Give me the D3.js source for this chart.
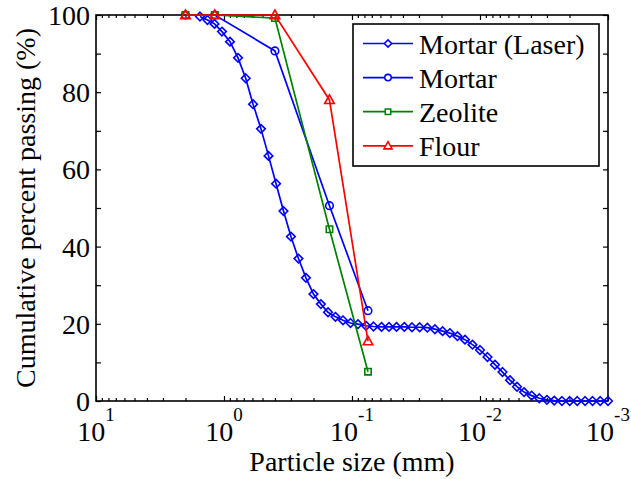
<!DOCTYPE html>
<html>
<head>
<meta charset="utf-8">
<script src="https://cdn.jsdelivr.net/npm/d3@7"></script>
<style>
  body { margin: 0; background: #fff; }
  svg { display: block; font-family: "Liberation Serif", "Times New Roman", serif; }
</style>
</head>
<body>
<div id="chart"></div>
<script>
// laser diffraction curve (mm, % passing)
var laserSize = [1.540, 1.346, 1.186, 1.037, 0.898, 0.777, 0.677, 0.593, 0.514, 0.449,
  0.392, 0.343, 0.300, 0.262, 0.229, 0.200, 0.175, 0.154, 0.1346, 0.1176,
  0.1027, 0.0898, 0.0777, 0.0679, 0.0588, 0.0514, 0.0449, 0.0390, 0.0340, 0.0296,
  0.0258, 0.0225, 0.0196, 0.0172, 0.0150, 0.0131, 0.01145, 0.0100, 0.00874, 0.00764,
  0.00667, 0.00583, 0.00514, 0.00453, 0.00395, 0.00344, 0.00300, 0.00263, 0.00229, 0.00199,
  0.00174, 0.00151, 0.00132, 0.00115, 0.00100]
var laserPass = [99.6, 98.7, 97.7, 95.7, 93.1, 88.9, 83.6, 76.9, 70.5, 63.5,
  56.3, 49.2, 42.6, 36.9, 31.9, 27.7, 25.1, 23.0, 21.8, 20.9,
  20.2, 19.9, 19.5, 19.3, 19.2, 19.2, 19.2, 19.2, 19.1, 19.1,
  19.0, 18.6, 18.1, 17.6, 16.8, 15.9, 14.6, 13.2, 11.4, 9.4,
  7.5, 5.4, 3.7, 2.3, 1.4, 0.7, 0.3, 0.1, 0, 0,
  0, 0, 0, 0, 0]

// sieve results
var sieveSize = [2, 1.18, 0.4, 0.15, 0.075]
var mortarPass = [100, 100, 90.7, 50.6, 23.4]
var zeolitePass = [100, 100, 99.2, 44.5, 7.6]
var flourPass = [100, 100, 100, 78.0, 15.5]

var seriesNames = ["Mortar (Laser)", "Mortar", "Zeolite", "Flour"]
var seriesColors = ["#0000ff", "#0000ff", "#008000", "#ff0000"]
var seriesMarkers = ["diamond", "circle", "square", "triangle"]

var xDecades = [10, 1, 0.1, 0.01, 0.001]
var xExponents = ["1", "0", "-1", "-2", "-3"]
var yLabelTicks = [0, 20, 40, 60, 80, 100]
var yAllTicks = [0, 10, 20, 30, 40, 50, 60, 70, 80, 90, 100]

var width = 631, height = 479
var margin = {top: 15, right: 23, bottom: 78, left: 96}

var svg = d3.select("#chart").append("svg")
  .attr("width", width)
  .attr("height", height)

var x = d3.scaleLog().domain([10, 0.001]).range([margin.left, width - margin.right])
var y = d3.scaleLinear().domain([0, 100]).range([height - margin.bottom, margin.top])

// minor ticks 2..9 per decade
var minor = []
xDecades.slice(1).forEach(function(d){
  for (var k = 2; k <= 9; k++) minor.push(d * k)
})

// ---------------------------//
//       AXES                 //
// ---------------------------//
var x0 = x.range()[0], x1 = x.range()[1]
var y0 = y.range()[0], y1 = y.range()[1]

var ax = svg.append("g").attr("class", "axes")

ax.append("g").attr("transform", "translate(0," + y0 + ")")
  .call(d3.axisBottom(x).tickValues(xDecades).tickSize(-5).tickSizeOuter(0).tickFormat(""))
ax.append("g").attr("transform", "translate(0," + y0 + ")")
  .call(d3.axisBottom(x).tickValues(minor).tickSize(-3).tickSizeOuter(0).tickFormat(""))
ax.append("g").attr("transform", "translate(0," + y1 + ")")
  .call(d3.axisTop(x).tickValues(xDecades).tickSize(-5).tickSizeOuter(0).tickFormat(""))
ax.append("g").attr("transform", "translate(0," + y1 + ")")
  .call(d3.axisTop(x).tickValues(minor).tickSize(-3).tickSizeOuter(0).tickFormat(""))
ax.append("g").attr("transform", "translate(" + x0 + ",0)")
  .call(d3.axisLeft(y).tickValues(yAllTicks).tickSize(-5).tickSizeOuter(0).tickFormat(""))
ax.append("g").attr("transform", "translate(" + x1 + ",0)")
  .call(d3.axisRight(y).tickValues(yAllTicks).tickSize(-5).tickSizeOuter(0).tickFormat(""))

ax.selectAll(".domain").remove()
ax.selectAll("line").attr("stroke", "#000").attr("stroke-width", 1.2)

ax.append("rect")
  .attr("x", x0).attr("y", y1)
  .attr("width", x1 - x0).attr("height", y0 - y1)
  .attr("fill", "none").attr("stroke", "#000").attr("stroke-width", 1.6)

// tick labels
svg.append("g").selectAll("text")
  .data(yLabelTicks)
  .enter().append("text")
    .attr("x", x0 - 6)
    .attr("y", function(d){ return y(d) + 10 })
    .attr("text-anchor", "end")
    .attr("font-size", 28)
    .text(function(d){ return d })

var xl = svg.append("g").selectAll("text")
  .data(xDecades)
  .enter().append("text")
    .attr("x", function(d){ return x(d) })
    .attr("y", 441)
    .attr("text-anchor", "middle")
    .attr("font-size", 28)
xl.append("tspan").text("10")
xl.append("tspan")
  .attr("font-size", 19)
  .attr("dy", -20)
  .text(function(d, i){ return xExponents[i] })

// axis titles
svg.append("text")
  .attr("x", (x0 + x1) / 2)
  .attr("y", 471)
  .attr("text-anchor", "middle")
  .attr("font-size", 28)
  .text("Particle size (mm)")

svg.append("text")
  .attr("transform", "translate(35," + ((y0 + y1) / 2) + ") rotate(-90)")
  .attr("text-anchor", "middle")
  .attr("font-size", 28)
  .text("Cumulative percent passing (%)")

// ---------------------------//
//       MARKERS              //
// ---------------------------//
function markerPath(type){
  if (type == "diamond") return "M0,-4.3L4.3,0L0,4.3L-4.3,0Z"
  if (type == "square") return "M-3.2,-3.2H3.2V3.2H-3.2Z"
  if (type == "triangle") return "M0,-5L4.8,3.6L-4.8,3.6Z"
  return "M3.8,0A3.8,3.8 0 1,1 -3.8,0A3.8,3.8 0 1,1 3.8,0Z"
}

var seriesData = [
  laserSize.map(function(s, i){ return [s, laserPass[i]] }),
  sieveSize.map(function(s, i){ return [s, mortarPass[i]] }),
  sieveSize.map(function(s, i){ return [s, zeolitePass[i]] }),
  sieveSize.map(function(s, i){ return [s, flourPass[i]] })
]

var line = d3.line()
  .x(function(d){ return x(d[0]) })
  .y(function(d){ return y(d[1]) })

seriesData.forEach(function(data, k){
  var g = svg.append("g").attr("class", "series")
  g.append("path")
    .attr("d", line(data))
    .attr("fill", "none")
    .attr("stroke", seriesColors[k])
    .attr("stroke-width", 1.7)
  g.selectAll("path.mk")
    .data(data)
    .enter().append("path")
      .attr("class", "mk")
      .attr("transform", function(d){ return "translate(" + x(d[0]) + "," + y(d[1]) + ")" })
      .attr("d", markerPath(seriesMarkers[k]))
      .attr("fill", "none")
      .attr("stroke", seriesColors[k])
      .attr("stroke-width", 1.6)
})

// ---------------------------//
//       LEGEND               //
// ---------------------------//
var leg = svg.append("g").attr("class", "legend")
leg.append("rect")
  .attr("x", 353).attr("y", 24)
  .attr("width", 246).attr("height", 142)
  .attr("fill", "#fff").attr("stroke", "#000").attr("stroke-width", 1.6)

var rows = leg.selectAll("g.row")
  .data(seriesNames)
  .enter().append("g")
    .attr("class", "row")
    .attr("transform", function(d, i){ return "translate(0," + (43.5 + i * 34.1) + ")" })
rows.append("line")
  .attr("x1", 363).attr("x2", 413)
  .attr("stroke", function(d, i){ return seriesColors[i] })
  .attr("stroke-width", 1.7)
rows.append("path")
  .attr("transform", "translate(388,0) scale(0.85)")
  .attr("d", function(d, i){ return markerPath(seriesMarkers[i]) })
  .attr("fill", "#fff")
  .attr("stroke", function(d, i){ return seriesColors[i] })
  .attr("stroke-width", 1.8)
rows.append("text")
  .attr("x", 419)
  .attr("y", 10)
  .attr("font-size", 28)
  .text(function(d){ return d })
</script>
</body>
</html>
